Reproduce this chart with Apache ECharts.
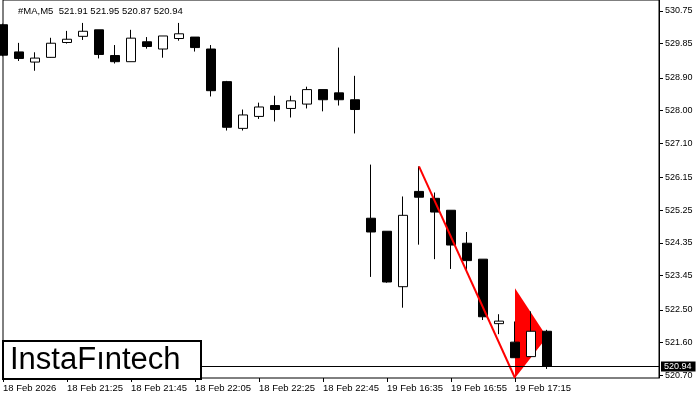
<!DOCTYPE html>
<html>
<head>
<meta charset="utf-8">
<script src="https://cdn.jsdelivr.net/npm/echarts@6/dist/echarts.min.js"></script>
<style>html,body{margin:0;padding:0;background:#fff;}#c{width:700px;height:400px;}</style>
</head>
<body>
<div id="c"></div>
<script>
// ---- data ----
const CATEGORIES = ['21:05','21:10','21:15','21:20','21:25','21:30','21:35','21:40','21:45','21:50','21:55','22:00','22:05','22:10','22:15','22:20','22:25','22:30','22:35','22:40','22:45','22:50','22:55',
  '16:30','16:35','16:40','16:45','16:50','16:55','17:00','17:05','17:10','17:15','17:20','17:25',
  '17:30','17:35','17:40','17:45','17:50','17:55','18:00'];
const OPEN  = [530.37,529.62,529.34,529.47,529.88,530.05,530.23,529.52,529.35,529.90,529.70,529.99,530.03,529.70,528.80,527.51,527.84,528.14,528.06,528.18,528.58,528.49,528.30,
  525.03,524.67,523.14,525.77,525.58,525.25,524.34,523.90,522.12,521.61,521.21,521.91];
const CLOSE = [529.53,529.44,529.45,529.86,529.97,530.19,529.55,529.35,530.00,529.77,530.06,530.12,529.74,528.55,527.54,527.88,528.10,528.03,528.27,528.58,528.30,528.30,528.03,
  524.65,523.27,525.11,525.61,525.20,524.29,523.86,522.31,522.19,521.18,521.91,520.94];
const LOW   = [529.50,529.37,529.10,529.46,529.85,529.95,529.44,529.30,529.35,529.71,529.46,529.93,529.63,528.39,527.45,527.45,527.77,527.70,527.81,528.06,527.98,528.14,527.37,
  523.41,523.25,522.56,524.30,523.90,523.63,523.55,522.22,521.83,521.18,521.21,520.87];
const HIGH  = [530.40,529.87,529.61,530.01,530.20,530.42,530.23,529.81,530.23,530.03,530.06,530.42,530.03,529.81,528.82,528.03,528.22,528.41,528.41,528.66,528.58,529.74,528.96,
  526.51,524.67,525.63,526.46,525.74,525.25,524.65,523.90,522.38,522.18,522.46,521.95];
const Y_TICKS = [530.75,529.85,528.90,528.00,527.10,526.15,525.25,524.35,523.45,522.50,521.60,520.70];
const X_TICK_AT = ['21:05','21:25','21:45','22:05','22:25','22:45','16:35','16:55','17:15'];
const X_TICK_LABELS = ['18 Feb 2026','18 Feb 21:25','18 Feb 21:45','18 Feb 22:05','18 Feb 22:25','18 Feb 22:45','19 Feb 16:35','19 Feb 16:55','19 Feb 17:15'];
const LAST_PRICE = 520.94;
const TITLE = '#MA,M5  521.91 521.95 520.87 520.94';
const POLE = [['16:45',526.46],['17:15',520.62]];
const PENNANT = [['17:15',523.10],['17:25',521.75],['17:15',520.62]];

// ---- chart ----
const FONT = '"Liberation Sans", Arial, sans-serif';
const candles = OPEN.map((o,i)=>[o, CLOSE[i], LOW[i], HIGH[i]]);
const chart = echarts.init(document.getElementById('c'), null, {renderer:'canvas'});
chart.setOption({
  animation:false,
  backgroundColor:'#fff',
  grid:{left:2, right:41, top:-1, bottom:22, show:true, borderColor:'#000', borderWidth:1, backgroundColor:'transparent'},
  xAxis:{
    type:'category', data:CATEGORIES, boundaryGap:false,
    axisLine:{show:false},
    axisTick:{show:true, length:4, lineStyle:{color:'#000'}, interval:(i,v)=>X_TICK_AT.includes(v)},
    axisLabel:{interval:(i,v)=>X_TICK_AT.includes(v), formatter:(v)=>{const k=X_TICK_AT.indexOf(v);return k>=0?X_TICK_LABELS[k]:'';},
      align:'left', margin:5, fontSize:9.5, color:'#000', fontFamily:FONT},
    splitLine:{show:false}
  },
  yAxis:{
    type:'value', position:'right', min:520.62, max:531.053, scale:true,
    splitLine:{show:false},
    axisLine:{show:true, lineStyle:{color:'#000'}},
    axisTick:{show:true, length:4, lineStyle:{color:'#000'}, customValues:Y_TICKS},
    axisLabel:{customValues:Y_TICKS, formatter:(v)=>v.toFixed(2), fontSize:9, color:'#000', margin:6, fontFamily:FONT}
  },
  series:[
    {
      type:'custom', z:1, silent:true,
      data:[0],
      renderItem:(params, api)=>{
        const pts = PENNANT.map(p=>api.coord([CATEGORIES.indexOf(p[0]), p[1]]));
        return {type:'polygon', shape:{points:pts}, style:{fill:'#ff0000'}};
      }
    },
    {
      type:'candlestick', z:2, data:candles, barWidth:10,
      itemStyle:{color:'#ffffff', color0:'#000000', borderColor:'#000000', borderColor0:'#000000', borderWidth:1},
      markLine:{
        symbol:['none','none'], silent:true, animation:false,
        lineStyle:{color:'#000', width:1, type:'solid'},
        label:{show:true, position:'end', distance:2, formatter:LAST_PRICE.toFixed(2), backgroundColor:'#000', color:'#fff',
          fontSize:9, fontFamily:FONT, padding:[1,4,0,3]},
        data:[{yAxis:LAST_PRICE}]
      }
    },
    {
      type:'line', z:3, silent:true, symbol:'none',
      data:POLE.map(p=>[CATEGORIES.indexOf(p[0]), p[1]]),
      lineStyle:{color:'#ff0000', width:2}
    }
  ],
  graphic:[
    {type:'text', left:18, top:6, z:100, style:{text:TITLE, font:'9.5px '+FONT, fill:'#000'}},
    {type:'rect', z:100, shape:{x:3, y:341, width:198, height:38}, style:{fill:'#fff', stroke:'#000', lineWidth:2}},
    {type:'text', z:101, style:{text:'InstaFıntech', x:10, y:360, verticalAlign:'middle', font:'31px '+FONT, fill:'#000'}}
  ]
});
</script>
</body>
</html>
